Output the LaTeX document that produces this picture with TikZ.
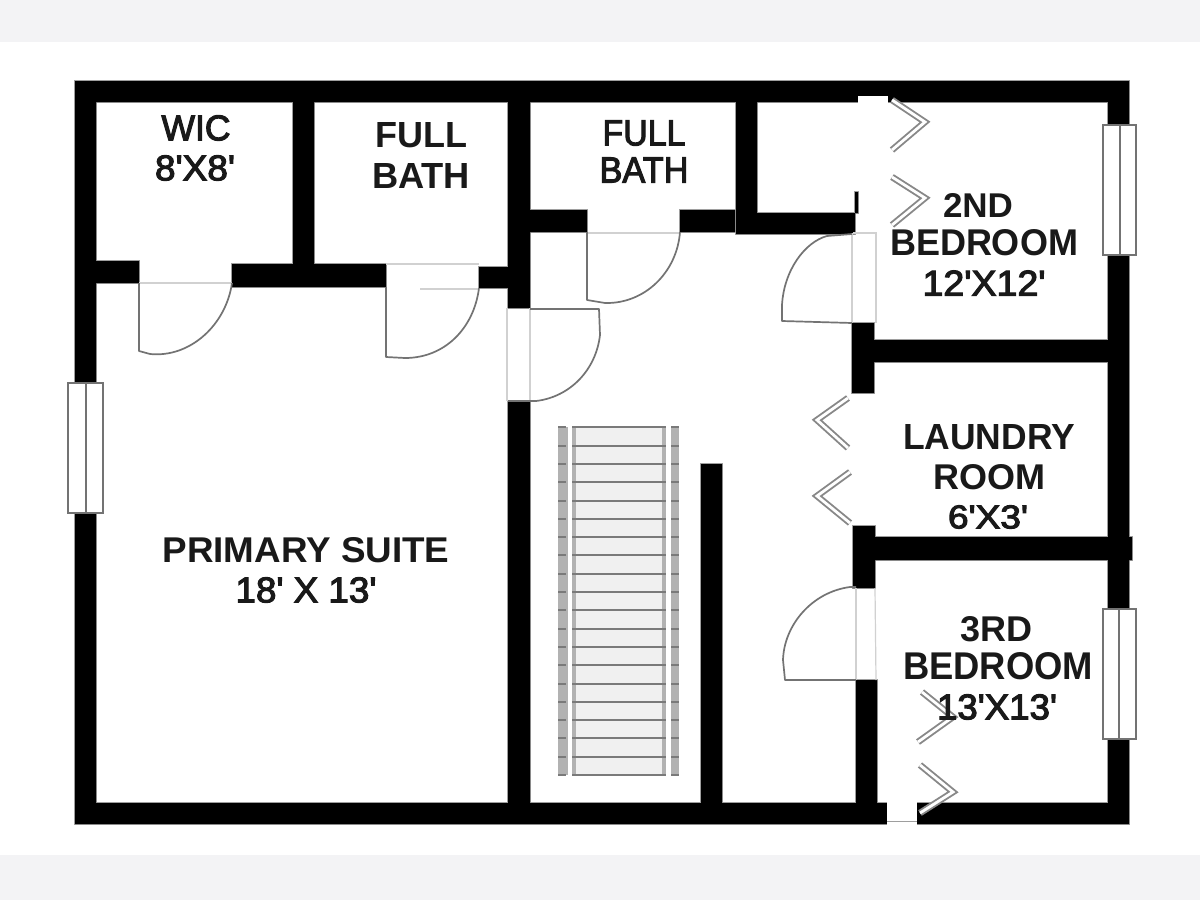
\documentclass[tikz,border=0pt]{standalone}
\usepackage{fontspec}
\usepackage{graphicx}
\setmainfont{Liberation Sans}[Ligatures=TeXOff]
\newfontfamily\medfont{Liberation Sans}[Ligatures=TeXOff,FakeBold=3]
\definecolor{bandgrey}{HTML}{F3F3F5}
\definecolor{edgegrey}{gray}{0.62}
\definecolor{doorgrey}{gray}{0.45}
\definecolor{jambgrey}{gray}{0.82}
\definecolor{stairband}{gray}{0.70}
\definecolor{stairfill}{gray}{0.94}
\definecolor{treadgrey}{gray}{0.48}
\tikzset{
  doorline/.style={draw=doorgrey,line width=0.85pt,line join=round},
  jamb/.style={draw=jambgrey,line width=0.6pt},
  bifold/.style={draw=doorgrey!85,line width=0.95pt,double=white,double distance=1.4pt,line join=miter},
  windowbox/.style={draw=doorgrey,line width=0.8pt,fill=white},
  lbl/.style={inner sep=0pt,outer sep=0pt,text=black!90},
}
\newcommand{\lab}[7]{\node[lbl] (#1) at (#2,#3) {\resizebox{\dimexpr #4pt/2\relax}{\dimexpr #5pt/2\relax}{\fontsize{17}{20}\selectfont#6#7}};}
\def\wallpath{
  (75,81) rectangle (1129,102)
  (75,81) rectangle (96,383) (75,513) rectangle (96,824)
  (75,803) rectangle (887,824) (917,803) rectangle (1129,824)
  (1108,81) rectangle (1129,125) (1108,255) rectangle (1129,609) (1108,739) rectangle (1129,824)
  (96,261) rectangle (139,283) (232,264) rectangle (386,287) (479,267) rectangle (510,288)
  (293,102) rectangle (314,264)
  (508,102) rectangle (530,308) (508,401) rectangle (530,803)
  (530,210) rectangle (587,232) (680,210) rectangle (735,232)
  (736,102) rectangle (757,234) (736,213) rectangle (855,234) (855,192) rectangle (858,213)
  (852,323) rectangle (874,393) (874,340) rectangle (1108,362)
  (853,526) rectangle (875,588) (875,537) rectangle (1132,560)
  (856,680) rectangle (877,803)
  (701,464) rectangle (722,803)
}
\begin{document}
\begin{tikzpicture}[x=0.5pt,y=-0.5pt]
\useasboundingbox (0,0) rectangle (1200,900);
\fill[white] (0,0) rectangle (1200,900);
\fill[bandgrey] (0,0) rectangle (1200,42);
\fill[bandgrey] (0,855) rectangle (1200,900);
% walls
\draw[edgegrey,line width=0.9pt] \wallpath;
\fill[black] \wallpath;
% openings in the outer wall
\fill[white] (858,96) rectangle (888,103);
\fill[white] (887,802) rectangle (917,826);
\draw[edgegrey,line width=0.5pt] (887,821) -- (917,821);
% stair
\fill[stairfill] (576,427) rectangle (662,775);
\fill[stairband] (558,427) rectangle (568,775);
\fill[stairband] (572,427) rectangle (576,775);
\fill[stairband] (662,427) rectangle (666,775);
\fill[stairband] (671,427) rectangle (679,775);
\foreach \k in {0,...,19}{
  \draw[treadgrey,line width=1pt] (572,775-18.3*\k) -- (666,775-18.3*\k);
  \draw[treadgrey,line width=1pt] (558,775-18.3*\k) -- (566,775-18.3*\k);
  \draw[treadgrey,line width=1pt] (671,775-18.3*\k) -- (679,775-18.3*\k);
}
% door jambs
\draw[jamb] (139,283) -- (232,283);
\draw[jamb] (386,264) -- (479,264);
\draw[jamb] (420,289) -- (479,289);
\draw[jamb] (587,233) -- (680,233);
\draw[jamb] (507,308) -- (507,401);
\draw[jamb] (530,308) -- (530,401);
\draw[jamb] (853,233) -- (876,233) -- (876,323);
\draw[jamb] (852,233) -- (852,323);
\draw[jamb] (875,588) -- (876,680);
\draw[jamb] (856,588) -- (856,680);
% doors
\draw[doorline] (139,283) -- (139,351) -- (150,354) .. controls (190,358) and (226,325) .. (232,283);
\draw[doorline] (386,287) -- (386,357) -- (405,358) .. controls (445,358) and (474,328) .. (479,288);
\draw[doorline] (587,232) -- (587,300) -- (605,303) .. controls (645,304) and (677,272) .. (680,232);
\draw[doorline] (530,309) -- (599,309) -- (600,335) .. controls (596,370) and (570,397) .. (536,401) -- (508,401);
\draw[doorline] (852,323) -- (782,321) -- (782,305) .. controls (784,270) and (805,242) .. (827,236) -- (852,234);
\draw[doorline] (856,680) -- (785,680) -- (783,660) .. controls (784,625) and (812,592) .. (850,587) -- (856,587);
% bifold doors
\draw[bifold] (892,100) -- (925,122) -- (892,150);
\draw[bifold] (892,177) -- (925,198) -- (892,225);
\draw[bifold] (848,398) -- (817,420) -- (848,448);
\draw[bifold] (850,472) -- (817,496) -- (850,523);
\draw[bifold] (922,692) -- (953,717) -- (918,742);
\draw[bifold] (920,765) -- (953,792) -- (920,813);
% windows
\draw[windowbox] (68,383) rectangle (103,513);
\draw[doorgrey,line width=0.8pt] (86,383) -- (86,513);
\draw[windowbox] (1103,125) rectangle (1136,255);
\draw[doorgrey,line width=0.8pt] (1120,125) -- (1120,255);
\draw[windowbox] (1103,609) rectangle (1136,739);
\draw[doorgrey,line width=0.8pt] (1119,609) -- (1119,739);
% labels
\lab{wicA}{196}{128}{69}{25}{\medfont}{WIC}
\lab{wicB}{195}{168}{80}{25}{\medfont}{8'X8'}
\lab{bathAa}{421}{135}{92}{25}{\bfseries}{FULL}
\lab{bathAb}{421}{176}{98}{25}{\bfseries}{BATH}
\lab{bathBa}{644}{133}{83}{25}{\medfont}{FULL}
\lab{bathBb}{644}{170}{89}{25}{\medfont}{BATH}
\lab{suiteA}{306}{550}{287}{25}{\bfseries}{PRIMARY SUITE}
\lab{suiteB}{306}{590}{141}{25}{\medfont}{18' X 13'}
\lab{bedAa}{978}{205}{70}{24}{\bfseries}{2ND}
\lab{bedAb}{984}{243}{188}{26}{\bfseries}{BEDROOM}
\lab{bedAc}{984}{283}{123}{25}{\medfont}{12'X12'}
\lab{lauA}{989}{437}{172}{25}{\bfseries}{LAUNDRY}
\lab{lauB}{989}{477}{112}{25}{\bfseries}{ROOM}
\lab{lauC}{988}{517}{80}{23}{\medfont}{6'X3'}
\lab{bedBa}{996}{629}{72}{25}{\bfseries}{3RD}
\lab{bedBb}{998}{666}{190}{27}{\bfseries}{BEDROOM}
\lab{bedBc}{997}{707}{120}{25}{\medfont}{13'X13'}
\end{tikzpicture}
\end{document}
